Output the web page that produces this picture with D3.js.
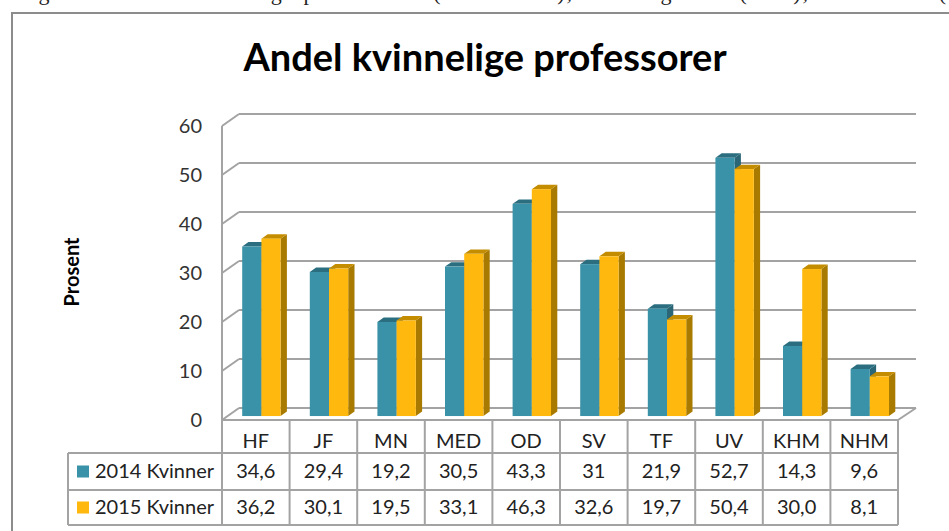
<!DOCTYPE html>
<html>
<head>
<meta charset="utf-8">
<script src="https://cdn.jsdelivr.net/npm/d3@7"></script>
<style>
  body { margin: 0; background: #fff; }
  text { font-family: Lato, "Open Sans", sans-serif; }
</style>
</head>
<body>
<div id="chart"></div>
<script>
// data
const categories = ["HF", "JF", "MN", "MED", "OD", "SV", "TF", "UV", "KHM", "NHM"];
const seriesNames = ["2014 Kvinner", "2015 Kvinner"];
const values2014 = [34.6, 29.4, 19.2, 30.5, 43.3, 31, 21.9, 52.7, 14.3, 9.6];
const values2015 = [36.2, 30.1, 19.5, 33.1, 46.3, 32.6, 19.7, 50.4, 30.0, 8.1];
const labels2014 = ["34,6", "29,4", "19,2", "30,5", "43,3", "31", "21,9", "52,7", "14,3", "9,6"];
const labels2015 = ["36,2", "30,1", "19,5", "33,1", "46,3", "32,6", "19,7", "50,4", "30,0", "8,1"];
const yTicks = [0, 10, 20, 30, 40, 50, 60];

Chart();

function Chart() {
  const W = 949, H = 531;
  const plot = { left: 222, right: 898, top: 126, bottom: 420 };
  const depth = { dx: 17, dy: -12 }; // offset from front to back wall
  const barFront = 0.33, barBack = 0.7; // where the bars sit in the depth
  const gridColor = "#a3a3a3";

  const colors = {
    "2014 Kvinner": { front: "#3a92a8", top: "#2b6e80", side: "#2a6676" },
    "2015 Kvinner": { front: "#ffb80e", top: "#c48d00", side: "#a87a00" },
  };

  const svg = d3.select("#chart").append("svg")
    .attr("width", W).attr("height", H);

  // caption line of the page, only its lowest part is inside the picture
  svg.append("text")
    .attr("x", 16).attr("y", 0)
    .attr("textLength", 930)
    .style("font-family", "'Liberation Serif', serif")
    .style("font-size", "22px")
    .style("fill", "#222")
    .text("Figur 2: Andel kvinnelige professorer (2014-2015), etter fagenhet (UiO), 2014/2015 (");

  // outer frame of the chart
  svg.append("rect")
    .attr("x", 12).attr("y", 13)
    .attr("width", W + 20).attr("height", H + 20)
    .style("fill", "#fff")
    .style("stroke", "#8c8c8c")
    .style("stroke-width", 2);

  // scales
  const x = d3.scaleBand().domain(categories).range([plot.left, plot.right]);
  const xs = d3.scaleBand().domain(seriesNames).range([0, x.bandwidth()]).paddingOuter(0.76);
  const y = d3.scaleLinear().domain([0, 60]).range([plot.bottom, plot.top]);

  // title
  svg.append("text")
    .attr("x", 485).attr("y", 71)
    .attr("text-anchor", "middle")
    .style("font-size", "38px")
    .style("font-weight", "bold")
    .style("fill", "#000")
    .text("Andel kvinnelige professorer");

  // y axis title
  svg.append("text")
    .attr("transform", "translate(79,272) rotate(-90)")
    .attr("text-anchor", "middle")
    .style("font-size", "20px")
    .style("font-weight", "bold")
    .style("fill", "#000")
    .text("Prosent");

  // back wall gridlines + left wall diagonals
  const grid = svg.append("g").style("stroke", gridColor).style("stroke-width", 2).style("fill", "none");
  yTicks.forEach((v) => {
    grid.append("line")
      .attr("x1", plot.left + depth.dx).attr("y1", y(v) + depth.dy)
      .attr("x2", plot.right + depth.dx + 1).attr("y2", y(v) + depth.dy);
    grid.append("line")
      .attr("x1", plot.left).attr("y1", y(v))
      .attr("x2", plot.left + depth.dx).attr("y2", y(v) + depth.dy);
  });
  // floor front edge and right edge
  grid.append("line")
    .attr("x1", plot.left).attr("y1", y(0))
    .attr("x2", plot.right).attr("y2", y(0));
  grid.append("line")
    .attr("x1", plot.right).attr("y1", y(0))
    .attr("x2", plot.right + depth.dx + 1).attr("y2", y(0) + depth.dy);
  // front vertical axis line, running down through the table
  grid.append("line")
    .attr("x1", plot.left).attr("y1", y(60))
    .attr("x2", plot.left).attr("y2", 525);

  // y tick labels
  svg.append("g").selectAll("text")
    .data(yTicks)
    .join("text")
    .attr("x", 202)
    .attr("y", (d) => y(d))
    .attr("dy", "0.36em")
    .attr("text-anchor", "end")
    .style("font-size", "20px")
    .style("fill", "#333")
    .text((d) => d);

  // bars
  const barData = [];
  categories.forEach((c, i) => {
    barData.push({ cat: c, series: seriesNames[0], value: values2014[i] });
    barData.push({ cat: c, series: seriesNames[1], value: values2015[i] });
  });

  const ddx = depth.dx * (barBack - barFront);
  const ddy = depth.dy * (barBack - barFront);
  const bars = svg.append("g");
  barData.forEach((d) => {
    const x0 = x(d.cat) + xs(d.series) + depth.dx * barFront;
    const x1 = x0 + xs.bandwidth();
    const y0 = y(0) + depth.dy * barFront;
    const y1 = y(d.value) + depth.dy * barFront;
    const col = colors[d.series];
    const g = bars.append("g");
    g.append("polygon")
      .attr("points", [[x1, y1], [x1 + ddx, y1 + ddy], [x1 + ddx, y0 + ddy], [x1, y0]].join(" "))
      .style("fill", col.side);
    g.append("polygon")
      .attr("points", [[x0, y1], [x1, y1], [x1 + ddx, y1 + ddy], [x0 + ddx, y1 + ddy]].join(" "))
      .style("fill", col.top);
    g.append("rect")
      .attr("x", x0).attr("y", y1)
      .attr("width", x1 - x0).attr("height", y0 - y1)
      .style("fill", col.front);
  });

  // data table
  const rowTop = [420, 453, 490];
  const rowBottom = 525;
  const tableLeft = 68;
  const table = svg.append("g").style("stroke", gridColor).style("stroke-width", 2);
  // column separators
  categories.forEach((c) => {
    table.append("line")
      .attr("x1", x(c) + x.bandwidth()).attr("y1", rowTop[0])
      .attr("x2", x(c) + x.bandwidth()).attr("y2", rowBottom);
  });
  // row lines
  [rowTop[1], rowTop[2], rowBottom].forEach((ry) => {
    table.append("line")
      .attr("x1", tableLeft).attr("y1", ry)
      .attr("x2", plot.right).attr("y2", ry);
  });
  table.append("line")
    .attr("x1", tableLeft).attr("y1", rowTop[1])
    .attr("x2", tableLeft).attr("y2", rowBottom);

  // category names
  svg.append("g").selectAll("text")
    .data(categories)
    .join("text")
    .attr("x", (d) => x(d) + x.bandwidth() / 2)
    .attr("y", 448)
    .attr("text-anchor", "middle")
    .style("font-size", "20px")
    .style("fill", "#222")
    .text((d) => d);

  // values
  [labels2014, labels2015].forEach((labels, r) => {
    svg.append("g").selectAll("text")
      .data(labels)
      .join("text")
      .attr("x", (d, i) => x(categories[i]) + x.bandwidth() / 2)
      .attr("y", [478, 514][r])
      .attr("text-anchor", "middle")
      .style("font-size", "20px")
      .style("fill", "#222")
      .text((d) => d);
  });

  // legend keys inside the table
  seriesNames.forEach((s, r) => {
    const cy = [471.5, 507.5][r];
    svg.append("rect")
      .attr("x", 77).attr("y", cy - 6)
      .attr("width", 12).attr("height", 12)
      .style("fill", colors[s].front);
    svg.append("text")
      .attr("x", 95).attr("y", [478, 514][r])
      .style("font-size", "20px")
      .style("fill", "#222")
      .text(s);
  });
}
</script>
</body>
</html>
